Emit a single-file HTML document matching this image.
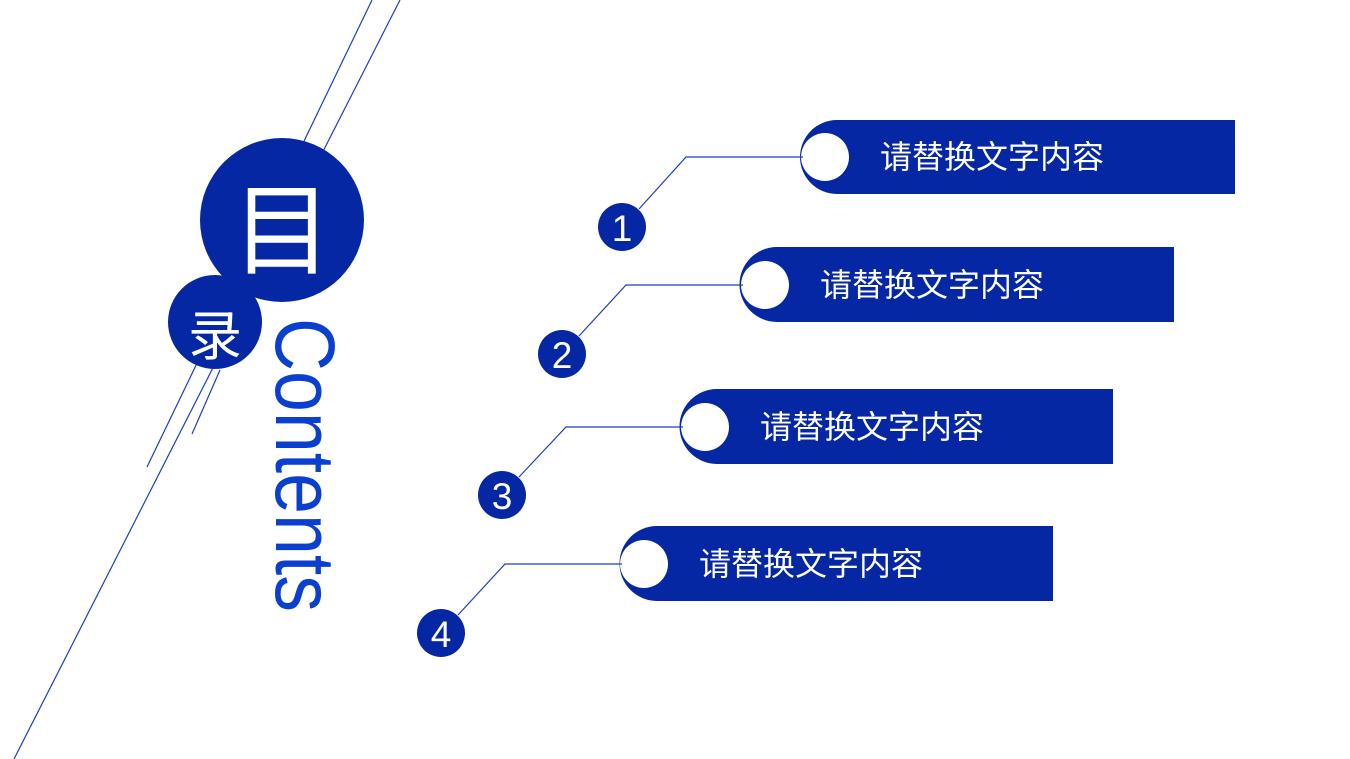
<!DOCTYPE html>
<html><head><meta charset="utf-8"><style>
html,body{margin:0;padding:0;background:#fff;width:1350px;height:759px;overflow:hidden}
svg{display:block}
text{font-family:"Liberation Sans","Noto Sans CJK SC",sans-serif}
</style></head><body>
<svg width="1350" height="759" viewBox="0 0 1350 759">
<g stroke="#1a3fbf" stroke-width="1.2" fill="none">
<line x1="400" y1="0" x2="14" y2="759"/>
<line x1="372" y1="0" x2="147" y2="467"/>
<line x1="220" y1="370" x2="192" y2="434"/>
</g>
<circle cx="282" cy="220" r="82" fill="#0527a3"/>
<circle cx="215" cy="322" r="47" fill="#0527a3"/>
<text x="282" y="266" font-size="100" fill="#fff" text-anchor="middle">目</text>
<text x="215" y="355" font-size="54" fill="#fff" text-anchor="middle">录</text>
<text transform="translate(276,318) rotate(90)" font-size="84" fill="#0a3fd0" textLength="294" lengthAdjust="spacingAndGlyphs">Contents</text>

<g fill="#0527a3">
<path d="M837,120 H1235 V194 H837 A37,37 0 0 1 837,120 Z"/>
<path d="M777,247 H1174 V322 H777 A37.5,37.5 0 0 1 777,247 Z"/>
<path d="M717,389 H1113 V464 H717 A37.5,37.5 0 0 1 717,389 Z"/>
<path d="M657,526 H1053 V601 H657 A37.5,37.5 0 0 1 657,526 Z"/>
<circle cx="622" cy="227" r="24"/>
<circle cx="562" cy="354" r="24"/>
<circle cx="502" cy="495" r="24"/>
<circle cx="441" cy="633" r="24"/>
</g>
<g fill="#fff">
<circle cx="825" cy="157" r="24"/>
<circle cx="765" cy="285" r="24"/>
<circle cx="705" cy="427" r="24"/>
<circle cx="644" cy="564" r="24"/>
</g>
<g stroke="#1a3fbf" stroke-width="1.2" fill="none">
<polyline points="639,209 686,157 803,157"/>
<polyline points="579,336 626,285 743,285"/>
<polyline points="519,477 566,427 683,427"/>
<polyline points="458,615 505,564 622,564"/>
</g>
<g fill="#fff" font-size="37" text-anchor="middle">
<text x="622" y="241">1</text>
<text x="562" y="368">2</text>
<text x="502" y="509">3</text>
<text x="441" y="647">4</text>
</g>
<g fill="#fff" font-size="32">
<text x="880" y="168">请替换文字内容</text>
<text x="820" y="296">请替换文字内容</text>
<text x="760" y="438">请替换文字内容</text>
<text x="699" y="575">请替换文字内容</text>
</g>
</svg>
</body></html>
